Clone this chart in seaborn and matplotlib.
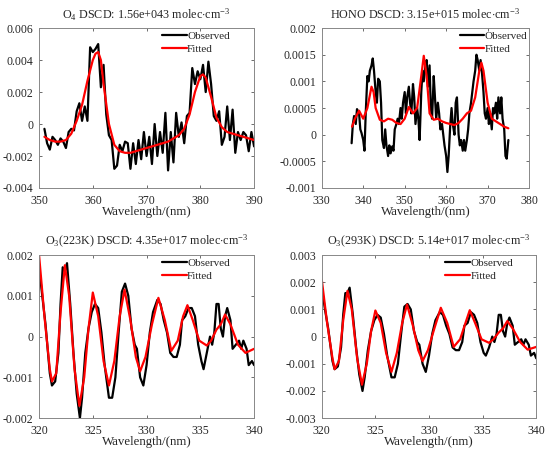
import numpy as np
import pandas as pd
import seaborn as sns
import matplotlib
matplotlib.use('Agg')
import matplotlib.pyplot as plt

# ---- O4 panel ----
o4_obs_wl = [351.0, 351.5, 352.0, 352.5, 353.0, 353.5, 354.0, 354.5, 355.0, 355.5,
             356.0, 356.5, 357.0, 357.5, 358.0, 358.5, 359.0, 359.5, 360.0, 360.5,
             361.0, 361.5, 362.0, 362.5, 363.0, 363.5, 364.0, 364.5, 365.0, 365.5,
             366.0, 366.5, 367.0, 367.5, 368.0, 368.5, 369.0, 369.5, 370.0, 370.5,
             371.0, 371.5, 372.0, 372.5, 373.0, 373.5, 374.0, 374.5, 375.0, 375.5,
             376.0, 376.5, 377.0, 377.5, 378.0, 378.5, 379.0, 379.5, 380.0, 380.5,
             381.0, 381.5, 382.0, 382.5, 383.0, 383.5, 384.0, 384.5, 385.0, 385.5,
             386.0, 386.5, 387.0, 387.5, 388.0, 388.5, 389.0, 389.5, 390.0]
o4_obs = [-0.0003, -0.0012, -0.0016, -0.0008, -0.0010, -0.0013, -0.0009, -0.0011, -0.0015, -0.0005,
          -0.0003, -0.0004, 0.0008, 0.0013, 0.0002, 0.0011, 0.0002, 0.0048, 0.0045, 0.0047,
          0.0050, 0.0023, 0.0037, 0.0006, -0.0007, -0.0010, -0.0028, -0.0026, -0.0013, -0.0017,
          -0.0011, -0.0012, -0.0028, -0.0012, -0.0025, -0.0010, -0.0022, -0.0005, -0.0020, -0.0008,
          -0.0025, 0.0000, -0.0020, -0.0005, -0.0018, 0.0007, -0.0029, -0.0005, -0.0024, 0.0007,
          -0.0008, 0.0001, -0.0012, 0.0005, 0.0007, 0.0035, 0.0025, 0.0033, 0.0028, 0.0037,
          0.0020, 0.0039, 0.0025, 0.0005, 0.0002, 0.0008, -0.0013, -0.0008, 0.0011, -0.0010,
          0.0009, -0.0018, -0.0005, -0.0010, -0.0005, -0.0007, -0.0017, -0.0005, -0.0014]
o4_fit_wl = [351, 352, 353, 354, 355, 356, 357, 358, 359, 360, 360.5, 361, 361.5, 362,
             363, 364, 365, 366, 367, 368, 369, 370, 371, 372, 373, 374, 375, 376, 377,
             378, 379, 380, 380.5, 381, 382, 383, 384, 385, 386, 387, 388, 389, 390]
o4_fit = [-0.0008, -0.0010, -0.0011, -0.0011, -0.0010, -0.0006, 0.0002, 0.0012, 0.0027, 0.0040,
          0.0044, 0.0045, 0.0040, 0.0025, 0.0000, -0.0013, -0.0017, -0.0018, -0.0018, -0.0017,
          -0.0016, -0.0015, -0.0014, -0.0013, -0.0012, -0.0011, -0.0009, -0.0007, -0.0003, 0.0006,
          0.0020, 0.0030, 0.0031, 0.0029, 0.0017, 0.0004, -0.0002, -0.0005, -0.0006, -0.0007,
          -0.0008, -0.0009, -0.0010]

# ---- HONO panel ----
hono_obs_wl = [337.2, 337.5, 337.8, 338.2, 338.5, 339.0, 339.3, 339.6, 340.0, 340.3, 340.6,
               341.0, 341.3, 341.6, 342.0, 342.3, 342.6, 343.0, 343.3, 343.6, 344.0, 344.3,
               344.6, 345.0, 345.3, 345.6, 346.0, 346.3, 346.6, 347.0, 347.3, 347.6, 348.0,
               348.3, 348.6, 349.0, 349.3, 349.6, 350.0, 350.3, 350.6, 351.0, 351.3, 351.6,
               352.0, 352.3, 352.6, 353.0, 353.3, 353.6, 354.0, 354.3, 354.6, 355.0, 355.3,
               355.6, 356.0, 356.3, 356.6, 357.0, 357.3, 357.6, 358.0, 358.3, 358.6, 359.0,
               359.3, 359.6, 360.0, 360.3, 360.6, 361.0, 361.3, 361.6, 362.0, 362.3, 362.6,
               363.0, 363.3, 363.6, 364.0, 364.3, 364.6, 365.0, 365.3, 365.6, 366.0, 366.3,
               366.6, 367.0, 367.3, 367.6, 368.0, 368.3, 368.6, 369.0, 369.3, 369.6, 370.0,
               370.3, 370.6, 371.0, 371.3, 371.6, 372.0, 372.3, 372.6, 373.0, 373.3, 373.6,
               374.0, 374.3, 374.6, 375.0]
hono_obs = [-0.00016, 0.0002, 0.00035, 0.0002, 0.00048, 0.0004, 0.0001, 0.00003, -0.0001, -0.0003, 0.0004,
            0.0011, 0.0010, 0.0012, 0.0013, 0.00143, 0.0012, 0.0008, 0.0006, 0.00105, 0.0010, 0.0006,
            -0.0001, -0.00025, 0.0001, -0.0002, -0.0004, -0.0002, -0.00035, -0.00022, -0.0003, 0.0001, 0.0002,
            0.0003, 0.0002, 0.0005, 0.0003, 0.0006, 0.0008, 0.0004, 0.0007, 0.0009, 0.0006, 0.0004,
            0.00095, 0.0007, 0.0002, 0.0005, 0.0003, -0.0001, 0.0008, 0.0012, 0.0010, 0.0013, 0.0014,
            0.0009, 0.0013, 0.0005, 0.0003, 0.0011, 0.0007, 0.0003, 0.0006, 0.0004, 0.0001, 0.0002,
            0.0000, -0.0002, -0.0004, -0.0007, -0.0004, 0.0002, 0.0005, 0.0002, 0.0000, 0.0006, 0.0007,
            0.0000, -0.0002, -0.0001, -0.0003, -0.0001, -0.0003, -0.0001, 0.0001, 0.0004, 0.0006, 0.0008,
            0.0010, 0.0012, 0.0015, 0.0014, 0.0012, 0.0014, 0.0012, 0.0008, 0.0004, 0.0003, 0.0005,
            0.0002, 0.0004, 0.0001, 0.0005, 0.0004, 0.0006, 0.0003, 0.0007, 0.0004, 0.0007, 0.0003,
            0.0001, -0.0004, -0.00045, -0.0001]
hono_fit_wl = [337.3, 338, 339, 340, 341, 342, 342.5, 343, 344, 345, 346, 347, 348, 349, 350,
               351, 352, 353, 354, 354.6, 355.3, 356, 357, 358, 359, 360, 361, 362, 363, 364,
               365, 366, 367, 368, 368.5, 369, 370, 371, 372, 373, 374, 375]
hono_fit = [0.00015, 0.0003, 0.00045, 0.0003, 0.0005, 0.0009, 0.0008, 0.0005, 0.00028, 0.00025,
            0.0003, 0.00028, 0.00022, 0.0002, 0.0003, 0.00052, 0.0004, 0.0005, 0.0011, 0.00148,
            0.0011, 0.0004, 0.00028, 0.0003, 0.00025, 0.00022, 0.0002, 0.00018, 0.00022, 0.0003,
            0.0004, 0.00045, 0.0007, 0.0012, 0.00135, 0.0012, 0.0006, 0.0003, 0.00025, 0.0002,
            0.00015, 0.00012]

# ---- O3 223K panel ----
o3a_obs_wl = [320.0, 320.3, 320.6, 321.0, 321.2, 321.5, 321.8, 322.0, 322.2, 322.4, 322.6,
              322.9, 323.2, 323.5, 323.8, 324.0, 324.3, 324.6, 324.9, 325.2, 325.5, 325.8,
              326.1, 326.5, 326.8, 327.1, 327.4, 327.7, 328.0, 328.3, 328.6, 328.9, 329.1,
              329.4, 329.7, 330.0, 330.3, 330.6, 331.0, 331.3, 331.6, 331.9, 332.2, 332.5,
              332.8, 333.1, 333.3, 333.6, 333.9, 334.2, 334.5, 334.8, 335.1, 335.3, 335.6,
              335.9, 336.1, 336.3, 336.5, 336.7, 336.9, 337.1, 337.3, 337.5, 337.8, 338.0,
              338.3, 338.6, 338.8, 339.0, 339.3, 339.5, 339.8, 340.0]
o3a_obs = [0.0017, 0.0010, 0.0003, -0.0009, -0.0012, -0.0011, -0.0004, 0.0008, 0.0017, 0.0016, 0.0018,
           0.0008, -0.0004, -0.0014, -0.0020, -0.0015, -0.0004, 0.0002, 0.0006, 0.0008, 0.0007, 0.0001,
           -0.0007, -0.0015, -0.0015, -0.0010, 0.0001, 0.0011, 0.0013, 0.0010, 0.0002, -0.0002, -0.0003,
           -0.0010, -0.0012, -0.0007, 0.0001, 0.0006, 0.0009, 0.0008, 0.0004, 0.0001, -0.0004, -0.0005,
           -0.0005, -0.0002, 0.0004, 0.0005, 0.0007, 0.0007, 0.0005, -0.0002, -0.0006, -0.0008, -0.0004,
           0.0000, -0.0002, 0.0001, 0.0008, 0.0008, 0.0002, 0.0000, 0.0005, 0.0007, 0.0004, -0.0003,
           -0.0002, -0.0001, -0.0003, -0.0001, -0.0003, -0.0007, -0.0006, -0.0007]
o3a_fit_wl = [320.0, 320.5, 321.0, 321.2, 321.6, 322.0, 322.4, 322.8, 323.3, 323.75, 324.2,
              324.6, 325.0, 325.5, 326.0, 326.5, 327.0, 327.5, 327.95, 328.5, 329.0, 329.4,
              329.9, 330.5, 331.1, 331.7, 332.3, 332.9, 333.4, 333.8, 334.3, 334.9, 335.6,
              336.0, 336.5, 336.9, 337.3, 337.8, 338.5, 339.2, 340.0]
o3a_fit = [0.0020, 0.0005, -0.0008, -0.0011, -0.0009, 0.0006, 0.00175, 0.0010, -0.0008, -0.0017, -0.0010,
           0.0002, 0.00108, 0.0005, -0.0006, -0.0012, -0.0006, 0.0005, 0.00115, 0.0004, -0.0005, -0.00085,
           -0.0005, 0.0003, 0.00095, 0.0004, -0.00035, -0.0001, 0.0005, 0.00077, 0.0004, -0.0001, -0.00022,
           -0.0001, 0.00017, 0.0003, 0.00054, 0.0003, -0.0002, -0.0004, -0.0003]

# ---- O3 293K panel ----
o3b_obs_wl = o3a_obs_wl
o3b_obs = [0.0018, 0.0010, 0.0003, -0.0009, -0.0012, -0.0011, -0.0004, 0.0008, 0.0016, 0.0016, 0.0018,
           0.0008, -0.0004, -0.0014, -0.0020, -0.0015, -0.0005, 0.0002, 0.0006, 0.0008, 0.0007, 0.0001,
           -0.0007, -0.0015, -0.0015, -0.0010, 0.0001, 0.0011, 0.0012, 0.0010, 0.0002, -0.0002, -0.0003,
           -0.0010, -0.0013, -0.0007, 0.0001, 0.0006, 0.0009, 0.0008, 0.0004, 0.0001, -0.0004, -0.0005,
           -0.0005, -0.0002, 0.0004, 0.0005, 0.0009, 0.0008, 0.0005, -0.0002, -0.0006, -0.0007, -0.0004,
           0.0000, -0.0002, 0.0001, 0.0008, 0.0008, 0.0002, 0.0000, 0.0005, 0.0007, 0.0004, -0.0003,
           -0.0002, -0.0001, -0.0003, -0.0001, -0.0003, -0.0007, -0.0006, -0.0008]
o3b_fit_wl = o3a_fit_wl
o3b_fit = [0.0021, 0.0005, -0.0008, -0.0012, -0.0009, 0.0006, 0.00168, 0.0010, -0.0008, -0.00177, -0.0010,
           0.0002, 0.00096, 0.0005, -0.0006, -0.0013, -0.0006, 0.0005, 0.00118, 0.0004, -0.0005, -0.0009,
           -0.0005, 0.0003, 0.00106, 0.0005, -0.00038, -0.0001, 0.0005, 0.00097, 0.0005, -0.0001, -0.00023,
           -0.0001, 0.00015, 0.0003, 0.00057, 0.0003, -0.0002, -0.00048, -0.00038]

titles = [r'O$_4$ DSCD: 1.56e+043 molec$\cdot$cm$^{-3}$',
          r'HONO DSCD: 3.15e+015 molec$\cdot$cm$^{-3}$',
          r'O$_3$(223K) DSCD: 4.35e+017 molec$\cdot$cm$^{-3}$',
          r'O$_3$(293K) DSCD: 5.14e+017 molec$\cdot$cm$^{-3}$']
xlims = [(350, 390), (330, 380), (320, 340), (320, 340)]
ylims = [(-0.004, 0.006), (-0.001, 0.002), (-0.002, 0.002), (-0.003, 0.003)]
yticks = [[-0.004, -0.002, 0, 0.002, 0.004, 0.006],
          [-0.001, -0.0005, 0, 0.0005, 0.001, 0.0015, 0.002],
          [-0.002, -0.001, 0, 0.001, 0.002],
          [-0.003, -0.002, -0.001, 0, 0.001, 0.002, 0.003]]
ylabels = [['-0.004', '-0.002', '0', '0.002', '0.004', '0.006'],
           ['-0.001', '-0.0005', '0', '0.0005', '0.001', '0.0015', '0.002'],
           ['-0.002', '-0.001', '0', '0.001', '0.002'],
           ['-0.003', '-0.002', '-0.001', '0', '0.001', '0.002', '0.003']]
xticks = [[350, 360, 370, 380, 390], [330, 340, 350, 360, 370, 380],
          [320, 325, 330, 335, 340], [320, 325, 330, 335, 340]]

panels = [(o4_obs_wl, o4_obs, o4_fit_wl, o4_fit),
          (hono_obs_wl, hono_obs, hono_fit_wl, hono_fit),
          (o3a_obs_wl, o3a_obs, o3a_fit_wl, o3a_fit),
          (o3b_obs_wl, o3b_obs, o3b_fit_wl, o3b_fit)]

positions = [[0.071, 0.585, 0.391, 0.353],
             [0.585, 0.585, 0.377, 0.353],
             [0.071, 0.077, 0.391, 0.360],
             [0.585, 0.077, 0.390, 0.360]]
legend_x = [0.90, 1.005, 0.90, 0.905]

sns.set_style('ticks')
plt.rcParams['font.family'] = ['Liberation Serif', 'DejaVu Serif']
plt.rcParams['mathtext.fontset'] = 'custom'
plt.rcParams['mathtext.rm'] = 'Liberation Serif'
plt.rcParams['mathtext.it'] = 'Liberation Serif:italic'
plt.rcParams['mathtext.bf'] = 'Liberation Serif:bold'

fig = plt.figure(figsize=(5.5, 4.53), dpi=100)

for i, (ow, ov, fw, fv) in enumerate(panels):
    ax = fig.add_axes(positions[i])
    df_obs = pd.DataFrame({'wl': ow, 'val': ov})
    df_fit = pd.DataFrame({'wl': fw, 'val': fv})
    sns.lineplot(data=df_obs, x='wl', y='val', ax=ax, color='black', lw=1.6, label='Observed')
    sns.lineplot(data=df_fit, x='wl', y='val', ax=ax, color='red', lw=1.6, label='Fitted')
    ax.set_xlim(*xlims[i])
    ax.set_ylim(*ylims[i])
    ax.set_xticks(xticks[i])
    ax.set_yticks(yticks[i])
    ax.set_yticklabels(ylabels[i])
    ax.tick_params(direction='in', top=True, right=True, labelsize=8.5, length=2.5,
                   width=0.6, color='#555555')
    ax.tick_params(axis='x', pad=5)
    ax.tick_params(axis='y', pad=4)
    for s in ax.spines.values():
        s.set_linewidth(0.7)
        s.set_color('#888888')
    ax.set_title(titles[i], fontsize=8.7, pad=7)
    ax.set_xlabel('Wavelength/(nm)', fontsize=9.3, labelpad=-1)
    ax.set_ylabel('')
    ax.legend(loc='upper right', bbox_to_anchor=(legend_x[i], 1.0), frameon=False,
              fontsize=8, handlelength=2.2, handletextpad=0.05, labelspacing=0.3,
              borderaxespad=0, borderpad=0.25)

plt.savefig('out.png', dpi=100)
plt.close()
